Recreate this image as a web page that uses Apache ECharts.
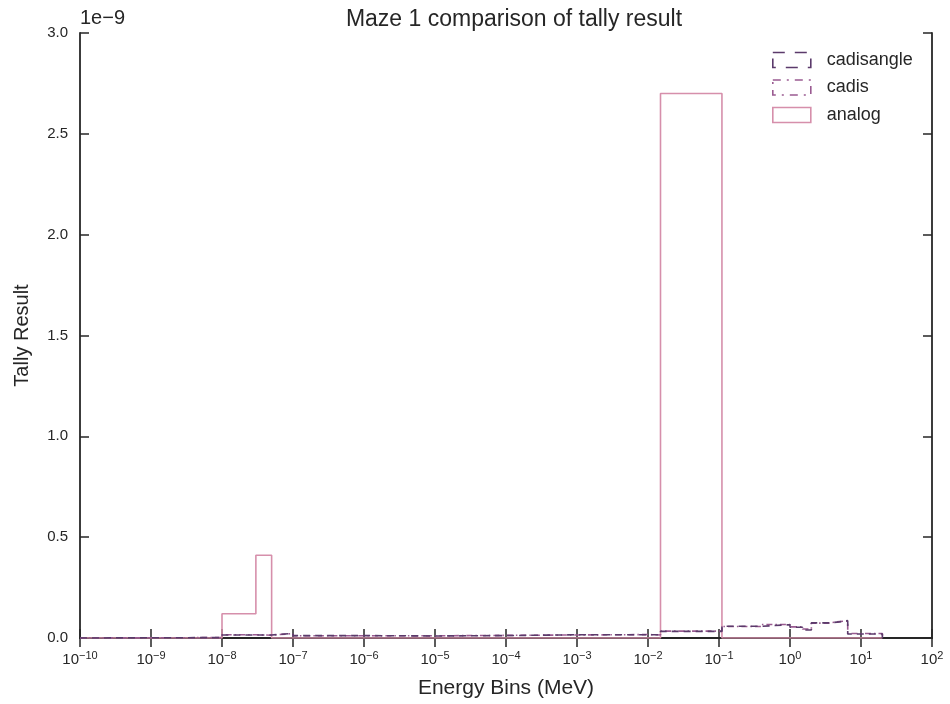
<!DOCTYPE html>
<html><head><meta charset="utf-8">
<script src="https://cdn.jsdelivr.net/npm/echarts@6/dist/echarts.min.js"></script>
<style>html,body{margin:0;padding:0;background:#fff}#c{width:950px;height:704px}</style>
</head><body><div id="c"></div>
<script>
// Energy bin edges (MeV)
const binEdges = [1e-10, 1e-8, 3e-8, 5e-8, 1e-7, 1e-6, 1e-5, 1e-4, 1e-3, 1e-2, 1.5e-2, 0.11, 0.4, 1, 1.5, 2, 3.5, 5, 6.5, 20];
// Tally values per bin, in units of 1e-9
const cadisangle = [0.002, 0.015, 0.015, 0.023, 0.012, 0.010, 0.012, 0.016, 0.016, 0.016, 0.033, 0.058, 0.066, 0.053, 0.040, 0.075, 0.080, 0.086, 0.020];
const cadis      = [0.002, 0.016, 0.014, 0.022, 0.011, 0.011, 0.013, 0.015, 0.017, 0.015, 0.034, 0.057, 0.067, 0.055, 0.045, 0.074, 0.082, 0.084, 0.022];
const analog     = [0, 0.12, 0.41, 0, 0, 0, 0, 0, 0, 0, 2.70, 0, 0, 0, 0, 0, 0, 0, 0];
const seriesNames = ['cadisangle', 'cadis', 'analog'];
const yTicks = [0, 0.5, 1.0, 1.5, 2.0, 2.5, 3.0];

const colors = {cadisangle: '#5b3a6b', cadis: '#9a5b91', analog: '#d68fab'};
const dashes = {cadisangle: [7, 5], cadis: [6, 3, 1.5, 3], analog: 'solid'};
const legendDashes = {cadisangle: [12, 10], cadis: [8, 6, 2, 6], analog: 'solid'};

function stepData(vals) {
  const d = [[binEdges[0], 0]];
  for (let i = 0; i < vals.length; i++) d.push([binEdges[i], vals[i]]);
  d.push([binEdges[binEdges.length - 1], vals[vals.length - 1]]);
  d.push([binEdges[binEdges.length - 1], 0]);
  return d;
}
const valuesByName = {cadisangle, cadis, analog};

const font = 'Liberation Sans, Arial, sans-serif';
const frame = '#262626';
function supLabel(v) {
  const e = Math.round(Math.log10(v));
  return '{b|10}{s|' + (e < 0 ? '\u2212' + (-e) : e) + '}';
}
const rich = {b: {fontSize: 15, fontFamily: font, color: '#262626'}, s: {fontSize: 11, fontFamily: font, color: '#262626', padding: [0, 0, 9, 0]}};

const chart = echarts.init(document.getElementById('c'));
const xCommon = {type: 'log', logBase: 10, min: 1e-10, max: 1e2, interval: 1,
  axisLine: {show: true, lineStyle: {color: frame, width: 1.8}},
  axisTick: {show: true, inside: true, length: 9, lineStyle: {color: frame, width: 1.5}},
  minorTick: {show: false}, splitLine: {show: false}};
const yCommon = {type: 'value', min: 0, max: 3, interval: 0.5,
  axisLine: {show: true, onZero: false, lineStyle: {color: frame, width: 1.8}},
  axisTick: {show: true, inside: true, length: 9, lineStyle: {color: frame, width: 1.5}},
  splitLine: {show: false}};

chart.setOption({
  animation: false,
  backgroundColor: '#fff',
  title: {text: 'Maze 1 comparison of tally result', left: 509, top: 3, textAlign: 'center',
    textStyle: {fontFamily: font, fontSize: 23, fontWeight: 'normal', color: '#262626'}},
  grid: {left: 80, right: 18, top: 33, bottom: 65, containLabel: false},
  legend: {orient: 'vertical', left: 772, top: 50, padding: 0, itemWidth: 38, itemHeight: 15, itemGap: 7.5,
    textStyle: {fontFamily: font, fontSize: 18, lineHeight: 20, color: '#262626', padding: [0, 0, 0, 11]},
    data: seriesNames.map(n => ({name: n, icon: 'rect',
      itemStyle: {color: 'rgba(0,0,0,0)', borderColor: colors[n], borderWidth: 1.6, borderType: legendDashes[n]}}))},
  xAxis: [
    Object.assign({}, xCommon, {position: 'bottom', name: 'Energy Bins (MeV)', nameLocation: 'middle', nameGap: 40,
      nameTextStyle: {fontFamily: font, fontSize: 21, color: '#262626'},
      axisLabel: {margin: 12, formatter: supLabel, rich: rich}}),
    Object.assign({}, xCommon, {position: 'top', axisLabel: {show: false}})
  ],
  yAxis: [
    Object.assign({}, yCommon, {position: 'left', name: 'Tally Result', nameLocation: 'middle', nameGap: 48,
      nameTextStyle: {fontFamily: font, fontSize: 20, color: '#262626'},
      axisLabel: {margin: 12, fontFamily: font, fontSize: 15, color: '#262626', formatter: v => v.toFixed(1)}}),
    Object.assign({}, yCommon, {position: 'right', axisLabel: {show: false}})
  ],
  graphic: [{type: 'text', left: 80, top: 8, style: {text: '1e\u22129', font: '20px ' + font, fill: '#262626'}}],
  series: seriesNames.slice().reverse().map(n => ({
    name: n, type: 'line', step: 'end', symbol: 'none', xAxisIndex: 0, yAxisIndex: 0,
    data: stepData(valuesByName[n]),
    lineStyle: {color: colors[n], width: 1.6, type: dashes[n]},
    itemStyle: {color: colors[n]}
  }))
});
</script></body></html>
